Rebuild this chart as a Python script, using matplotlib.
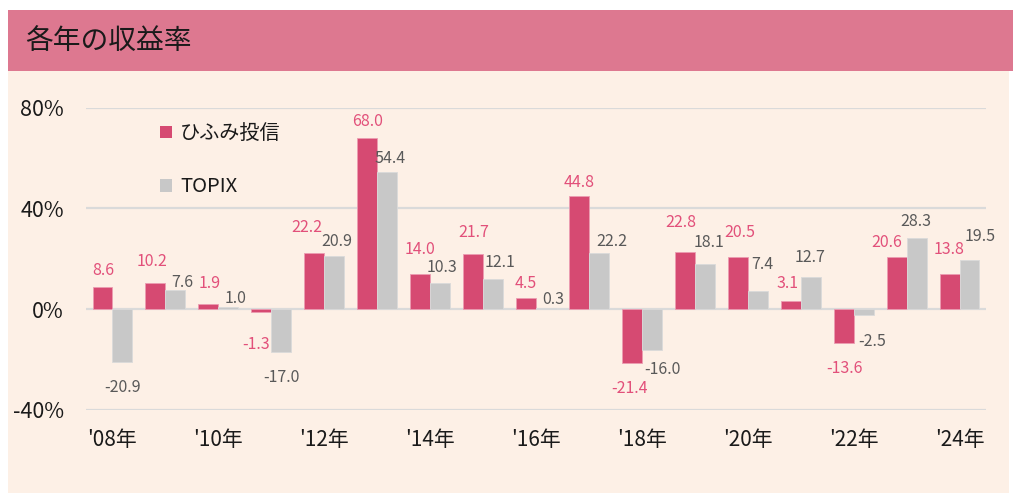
import matplotlib
matplotlib.use("Agg")
import matplotlib.pyplot as plt
from matplotlib.patches import Rectangle, Patch
import numpy as np

plt.rcParams['font.family'] = ['Noto Sans CJK JP', 'DejaVu Sans']

# ---- data ----
years = ["'08", "'09", "'10", "'11", "'12", "'13", "'14", "'15", "'16",
         "'17", "'18", "'19", "'20", "'21", "'22", "'23", "'24"]
hifumi = [8.6, 10.2, 1.9, -1.3, 22.2, 68.0, 14.0, 21.7, 4.5,
          44.8, -21.4, 22.8, 20.5, 3.1, -13.6, 20.6, 13.8]
topix = [-20.9, 7.6, 1.0, -17.0, 20.9, 54.4, 10.3, 12.1, 0.3,
         22.2, -16.0, 18.1, 7.4, 12.7, -2.5, 28.3, 19.5]
yticks = [-40, 0, 40, 80]
series_names = ["ひふみ投信", "TOPIX"]
title = "各年の収益率"

# ---- label offsets (pixels) ----
hifumi_off = [(1, 16.5), (-3, 21.5), (1, 21), (-5, -32), (-7.5, 25.5), (0.5, 16),
              (0, 24), (1, 22), (0, 14), (0, 14), (-2.5, -25.5), (-4.5, 29),
              (2.5, 24.5), (-3, 18), (0.5, -25), (-9.5, 14.5), (0, 24.5)]
topix_off = [(0, -26), (7, 8), (7.5, 8.5), (0, -25.5), (3, 14.5), (3, 14),
             (1.5, 16), (6.5, 16), (7, 9), (13, 11.5), (11, -20), (4, 21),
             (4.5, 26.5), (-0.5, 20), (9, -26), (-0.5, 16), (11, 24)]

PINK = '#D64A72'
GRAY = '#C8C8C8'
PINK_TXT = '#E2507A'
GRAY_TXT = '#595959'

W, H = 1024, 499
fig = plt.figure(figsize=(W / 100, H / 100), dpi=100)
fig.patch.set_facecolor('white')

# background panels (figure pixel coords converted)
def fr(x0, y0, x1, y1, color):
    fig.patches.append(Rectangle((x0 / W, 1 - y1 / H), (x1 - x0) / W, (y1 - y0) / H,
                                 transform=fig.transFigure, facecolor=color,
                                 edgecolor='none', zorder=-10))

fr(8, 71, 1009, 493, '#FDF0E6')
fr(8, 10, 1013, 71, '#DD7890')
fig.text(25 / W, 1 - 41 / H, title, fontsize=20, color='#1A1A1A', va='center', ha='left')

ax = fig.add_axes([86 / W, 1 - 410 / H, (986 - 86) / W, (410 - 107.5) / H])
ax.set_facecolor('none')

x = np.arange(len(years))
bw = 0.377
ax.bar(x - bw / 2, hifumi, bw, color=PINK, edgecolor='#EC9CB2', linewidth=0.6, zorder=3)
ax.bar(x + bw / 2, topix, bw, color=GRAY, edgecolor='#DADADA', linewidth=0.6, zorder=3)

for i, v in enumerate(hifumi):
    dx, dy = hifumi_off[i]
    ax.annotate(f"{v:.1f}", xy=(x[i] - bw / 2, v), xytext=(dx, dy), textcoords='offset pixels',
                ha='center', va='center', fontsize=11.5, color=PINK_TXT, zorder=5)
for i, v in enumerate(topix):
    dx, dy = topix_off[i]
    ax.annotate(f"{v:.1f}", xy=(x[i] + bw / 2, v), xytext=(dx, dy), textcoords='offset pixels',
                ha='center', va='center', fontsize=11.5, color=GRAY_TXT, zorder=5)

ax.set_xlim(-0.5, len(years) - 0.5)
ax.set_ylim(-40, 80)
ax.set_yticks(yticks)
ax.set_yticklabels([f"{t}%" for t in yticks], fontsize=15.5, color='#1A1A1A')
ax.set_xticks(x[::2])
ax.set_xticklabels([f"{y}年" for y in years[::2]], fontsize=15, color='#1A1A1A')
ax.tick_params(axis='both', length=0)
ax.tick_params(axis='y', pad=16)
ax.tick_params(axis='x', pad=14)
ax.yaxis.grid(True, color='#DADADA', linewidth=1.6, zorder=0)
ax.set_axisbelow(True)
for s in ax.spines.values():
    s.set_visible(False)

handles = [Patch(facecolor=PINK, edgecolor='none'), Patch(facecolor=GRAY, edgecolor='none')]
leg = ax.legend(handles, series_names, loc='upper left',
                bbox_to_anchor=(160 / W, 1 - 123 / H), bbox_transform=fig.transFigure,
                frameon=False, fontsize=14.5, handlelength=0.6, handleheight=0.6,
                handletextpad=0.4, labelspacing=1.6, borderpad=0, borderaxespad=0)
for t in leg.get_texts():
    t.set_color('#1A1A1A')

fig.savefig('out.png', dpi=100, facecolor=fig.get_facecolor())
